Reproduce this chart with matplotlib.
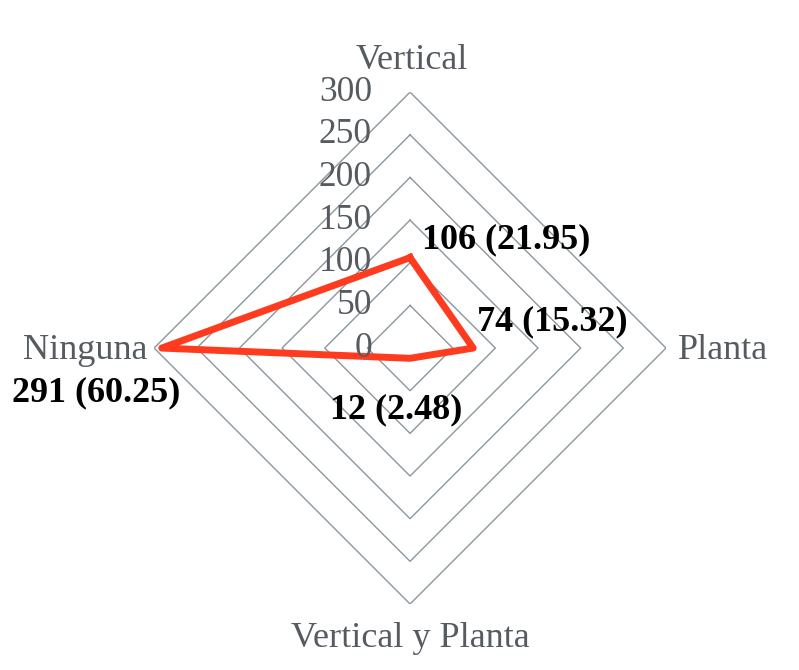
import numpy as np
import matplotlib.pyplot as plt

categories = ["Vertical", "Planta", "Vertical y Planta", "Ninguna"]
counts = [106, 74, 12, 291]
percents = [21.95, 15.32, 2.48, 60.25]
ring_values = [50, 100, 150, 200, 250, 300]
tick_values = [0, 50, 100, 150, 200, 250, 300]

plt.rcParams['font.family'] = ['Liberation Serif', 'DejaVu Serif']

fig = plt.figure(figsize=(7.99, 6.7), dpi=100)
ax = fig.add_axes([0.1927, 0.0985, 0.641, 0.764], projection='polar')
ax.set_theta_zero_location('N')
ax.set_theta_direction(-1)
ax.set_ylim(0, 300)
ax.grid(False)
ax.spines['polar'].set_visible(False)
ax.set_xticks([])
ax.set_yticks([])
ax.patch.set_alpha(0)

angles = np.arange(len(categories)) * 2 * np.pi / len(categories)
closed = np.append(angles, angles[0])

# diamond grid rings
for r in ring_values:
    ax.plot(closed, [r] * len(closed), color='#8a979d', lw=1.0, zorder=1)

# data polygon
ax.plot(closed, counts + [counts[0]], color='#ff3b1f', lw=5, solid_joinstyle='round', zorder=3)

grey = '#555b61'
# radial tick labels along the vertical axis
for v in tick_values:
    ax.annotate(str(v), xy=(0, v), xytext=(-38, 0), textcoords='offset pixels',
                ha='right', va='center', fontsize=25.5, color=grey)

# category labels
ax.annotate(categories[0], xy=(angles[0], 300), xytext=(2, 32), textcoords='offset pixels',
            ha='center', va='center', fontsize=26, color=grey, annotation_clip=False)
ax.annotate(categories[1], xy=(angles[1], 300), xytext=(12, -2), textcoords='offset pixels',
            ha='left', va='center', fontsize=26, color=grey, annotation_clip=False)
ax.annotate(categories[2], xy=(angles[2], 300), xytext=(0, -34), textcoords='offset pixels',
            ha='center', va='center', fontsize=26, color=grey, annotation_clip=False)
ax.annotate(categories[3], xy=(angles[3], 300), xytext=(-7, -2), textcoords='offset pixels',
            ha='right', va='center', fontsize=26, color=grey, annotation_clip=False)

# data labels
labels = [f"{c} ({p:.2f})" for c, p in zip(counts, percents)]
offsets = [(12, 18), (4, 26), (-14, -52), (-66, -45)]
aligns = ['left', 'left', 'center', 'center']
for a, c, lab, off, ha in zip(angles, counts, labels, offsets, aligns):
    ax.annotate(lab, xy=(a, c), xytext=off, textcoords='offset pixels',
                ha=ha, va='center', fontsize=26, fontweight='bold', color='black',
                annotation_clip=False, zorder=4)

fig.savefig('out.png', dpi=100)
